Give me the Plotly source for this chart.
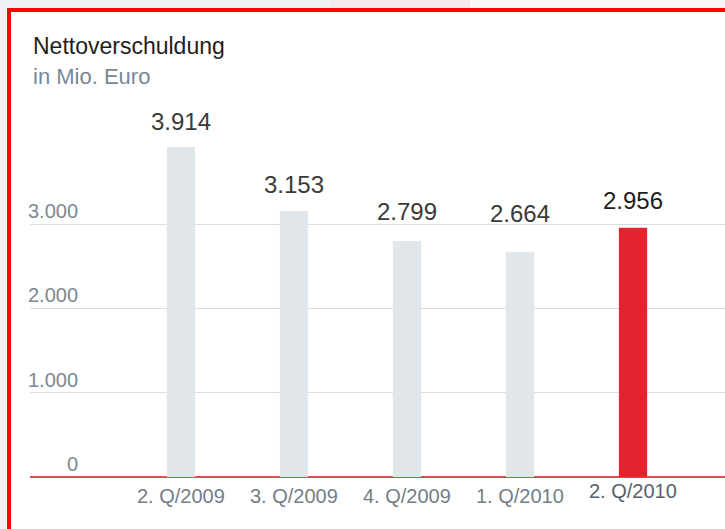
import plotly.graph_objects as go

categories = ["2. Q/2009", "3. Q/2009", "4. Q/2009", "1. Q/2010", "2. Q/2010"]
values = [3914, 3153, 2799, 2664, 2956]
value_labels = ["3.914", "3.153", "2.799", "2.664", "2.956"]
y_ticks = [0, 1000, 2000, 3000]
y_tick_labels = ["0", "1.000", "2.000", "3.000"]

W, H = 725, 529
L, R, T, B = 30, 0, 100, 52
PW, PH = W - L - R, H - T - B

def px_x(p):
    return (p - L) / PW

def px_y(p):
    return (H - B - p) / PH

bar_colors = ["#e0e6ea"] * 4 + ["#e3242f"]

fig = go.Figure()
fig.add_trace(go.Bar(
    x=categories, y=values, marker_color=bar_colors, marker_line_width=0,
    width=0.25, hoverinfo="skip",
))

font_family = "Liberation Sans, Arial, sans-serif"
ann = []
# value labels
shifts = [10, 11, 14, 23, 12]
for i, (c, v, t) in enumerate(zip(categories, values, value_labels)):
    ann.append(dict(x=c, y=v, xref="x", yref="y", text=t, showarrow=False,
                    yanchor="bottom", xanchor="center", yshift=shifts[i],
                    font=dict(size=24, color="#1e1e1e" if i == 4 else "#3a3a3a",
                              family=font_family)))
# category labels
for i, c in enumerate(categories):
    ann.append(dict(x=c, y=0, xref="x", yref="paper", text=c, showarrow=False,
                    yanchor="top", xanchor="center",
                    yshift=-1 if i == 4 else -6,
                    font=dict(size=20, color="#56616c" if i == 4 else "#737e89",
                              family=font_family)))
# y tick labels
for v, t in zip(y_ticks, y_tick_labels):
    ann.append(dict(x=px_x(80), y=v, xref="paper", yref="y", text=t, showarrow=False,
                    xanchor="right", yanchor="bottom", yshift=0,
                    font=dict(size=20, color="#7d8893", family=font_family)))
# title
ann.append(dict(x=px_x(31), y=px_y(46), xref="paper", yref="paper",
                text="Nettoverschuldung", showarrow=False, xanchor="left", yanchor="middle",
                font=dict(size=23, color="#1e1e1e", family=font_family)))
ann.append(dict(x=px_x(31), y=px_y(76.5), xref="paper", yref="paper",
                text="in Mio. Euro", showarrow=False, xanchor="left", yanchor="middle",
                font=dict(size=22, color="#7a8794", family=font_family)))

shapes = [
    # top strip tint
    dict(type="rect", xref="paper", yref="paper", x0=px_x(330), x1=px_x(470),
         y0=px_y(8), y1=px_y(-5), fillcolor="#f4e9ee", line_width=0, layer="below"),
    dict(type="rect", xref="paper", yref="paper", x0=px_x(470), x1=px_x(760),
         y0=px_y(8), y1=px_y(-5), fillcolor="#fcf5fa", line_width=0, layer="below"),
    # white panel with red border
    dict(type="rect", xref="paper", yref="paper", x0=px_x(9), x1=px_x(760),
         y0=px_y(560), y1=px_y(10), fillcolor="#ffffff",
         line=dict(color="#ff0000", width=4), layer="below"),
]

fig.update_layout(
    width=W, height=H, margin=dict(l=L, r=R, t=T, b=B, pad=0),
    paper_bgcolor="#eef1f4", plot_bgcolor="rgba(0,0,0,0)",
    showlegend=False, annotations=ann, shapes=shapes,
    xaxis=dict(range=[-1.336, 4.814], showticklabels=False, showgrid=False,
               zeroline=False, showline=False, fixedrange=True),
    yaxis=dict(range=[0, PH / 0.08433], tickvals=y_ticks[1:], showticklabels=False,
               showgrid=True, gridcolor="#d6dee4", gridwidth=1.2,
               zeroline=True, zerolinecolor="#e8474f", zerolinewidth=2,
               showline=False, fixedrange=True),
    font=dict(family=font_family),
)

fig.write_html("out.html", config={"displayModeBar": False},
               post_script="document.body.style.margin='0';document.body.style.overflow='hidden';")
